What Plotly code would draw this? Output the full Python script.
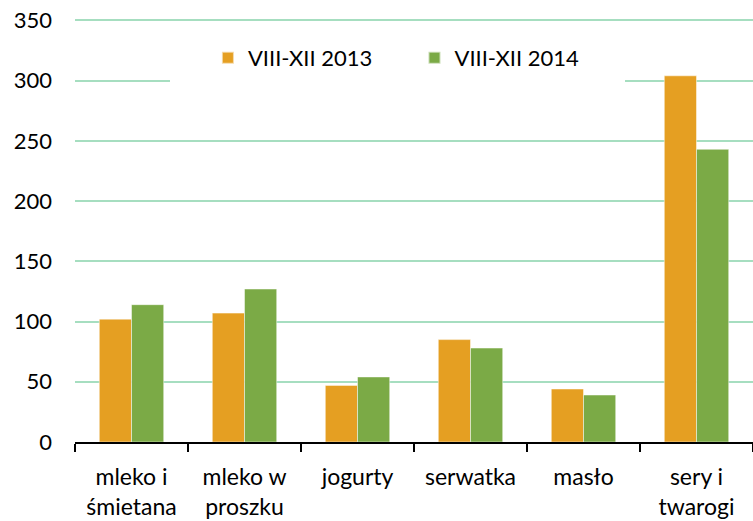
import plotly.graph_objects as go

categories = ["mleko i<br>śmietana", "mleko w<br>proszku", "jogurty", "serwatka", "masło", "sery i<br>twarogi"]
series_names = ["VIII-XII 2013", "VIII-XII 2014"]
values_2013 = [102, 107, 47, 85, 44, 304]
values_2014 = [114, 127, 54, 78, 39, 243]
y_ticks = [0, 50, 100, 150, 200, 250, 300, 350]

colors = ["#E59F22", "#7BAA46"]
font_family = "Lato, 'Open Sans', sans-serif"
# padding after legend labels (spacing between / after legend entries)
legend_pads = ["\u00a0" * 2, "\u00a0" * 5]

fig = go.Figure()
for name, vals, col, pad in zip(series_names, [values_2013, values_2014], colors, legend_pads):
    fig.add_trace(go.Bar(
        x=categories, y=vals, name=name + pad,
        marker=dict(color=col, line=dict(color="rgba(255,255,255,0.6)", width=0.8)),
    ))

fig.update_layout(
    width=753, height=521,
    margin=dict(l=75, r=0, t=18, b=79),
    paper_bgcolor="white", plot_bgcolor="white",
    barmode="group", bargap=0.43, bargroupgap=0,
    font=dict(family=font_family, size=22, color="#000000"),
    showlegend=True,
    legend=dict(
        orientation="h", x=0.140, xanchor="left", y=0.906, yanchor="middle",
        bgcolor="white", bordercolor="white", borderwidth=12, indentation=26,
        font=dict(family=font_family, size=22, color="#000000"),
        itemsizing="constant",
    ),
)
fig.update_yaxes(
    range=[0, 352], tickvals=y_ticks, showgrid=True,
    gridcolor="#A6DEC0", gridwidth=1.5, zeroline=False, showline=False,
    ticks="", ticklabelstandoff=22, automargin=False,
    tickfont=dict(family=font_family, size=22, color="#000000"),
)
fig.update_xaxes(
    showline=True, linecolor="#000000", linewidth=1.5,
    ticks="outside", tickson="boundaries", ticklen=8, tickwidth=1.5, tickcolor="#000000",
    showgrid=False, automargin=False, ticklabelstandoff=14,
    tickfont=dict(family=font_family, size=23, color="#000000"),
)

fig.write_html("out.html", config={"displayModeBar": False},
               post_script="document.body.style.margin='0';")
